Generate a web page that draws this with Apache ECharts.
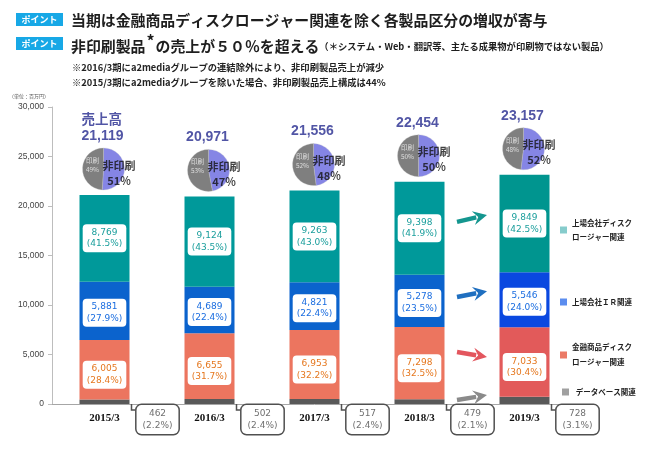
<!DOCTYPE html>
<html><head><meta charset="utf-8">
<script src="https://cdn.jsdelivr.net/npm/echarts@6/dist/echarts.min.js"></script>
<style>html,body{margin:0;padding:0;background:#fff}#c{width:649px;height:450px}</style>
</head><body><div id="c"></div>
<script>
// ---- data ----
const categories = ['2015/3', '2016/3', '2017/3', '2018/3', '2019/3'];
const database = [462, 502, 517, 479, 728];
const databasePct = ['2.2%', '2.4%', '2.4%', '2.1%', '3.1%'];
const financial = [6005, 6655, 6953, 7298, 7033];
const financialPct = ['28.4%', '31.7%', '32.2%', '32.5%', '30.4%'];
const irValues = [5881, 4689, 4821, 5278, 5546];
const irPct = ['27.9%', '22.4%', '22.4%', '23.5%', '24.0%'];
const disclosure = [8769, 9124, 9263, 9398, 9849];
const disclosurePct = ['41.5%', '43.5%', '43.0%', '41.9%', '42.5%'];
const totals = [21119, 20971, 21556, 22454, 23157];
const nonPrintPct = [51, 47, 48, 50, 52];
const printPct = [49, 53, 52, 50, 48];
const seriesNames = ['データベース関連', '金融商品ディスクロージャー関連', '上場会社ＩＲ関連', '上場会社ディスクロージャー関連'];

// ---- styling ----
const CJK = "'Noto Sans CJK JP', 'Noto Sans', sans-serif";
const NUM = "'DejaVu Sans', sans-serif";
const fmt = v => Number(v).toLocaleString('en-US');
const chart = echarts.init(document.getElementById('c'));

function seg(values, color19) {
  return values.map((v, i) => i === values.length - 1 ? { value: v, itemStyle: { color: color19 } } : v);
}
function segLabel(pcts, color, dy) {
  return {
    show: true, position: 'inside', offset: [0, dy],
    formatter: p => fmt(p.value) + '\n(' + pcts[p.dataIndex] + ')',
    color: color, fontFamily: NUM, fontSize: 9, lineHeight: 11.5,
    backgroundColor: '#fff', borderRadius: 4, padding: [3, 4, 2, 4]
  };
}
const legendCommon = {
  orient: 'vertical', icon: 'rect', itemWidth: 7, itemHeight: 7, itemGap: 0, padding: 0,
  selectedMode: false,
  textStyle: { fontFamily: CJK, fontSize: 7.5, fontWeight: 'bold', color: '#222', lineHeight: 14 }
};
const badge = (top) => ({
  text: 'ポイント', left: 16, top: top, padding: [1, 5.5, 1, 5.5], backgroundColor: '#17a8e6',
  textStyle: { color: '#fff', fontSize: 9, fontWeight: 'bold', lineHeight: 11, fontFamily: CJK }
});
const totalPoints = totals.map((v, i) => [i, v]);

const option = {
  animation: false,
  backgroundColor: '#fff',
  title: [
    badge(13), badge(37),
    { text: '当期は金融商品ディスクロージャー関連を除く各製品区分の増収が寄与', left: 71, top: 11, padding: 0,
      textStyle: { fontFamily: CJK, fontSize: 14.9, fontWeight: 'bold', color: '#1e1e1e', lineHeight: 18 } },
    { text: '{a|非印刷製品}{s|*}{a|の売上が５０％を超える}{b|（＊システム・Web・翻訳等、主たる成果物が印刷物ではない製品）}',
      left: 71, top: 37, padding: 0,
      textStyle: { rich: {
        a: { fontFamily: CJK, fontSize: 14.9, fontWeight: 'bold', color: '#1e1e1e', lineHeight: 18 },
        s: { fontFamily: CJK, fontSize: 16, fontWeight: 'bold', color: '#1e1e1e', lineHeight: 18, padding: [0, 1, 10, 1] },
        b: { fontFamily: CJK, fontSize: 9.3, fontWeight: 'bold', color: '#1e1e1e', lineHeight: 18 }
      } } },
    { text: '※2016/3期にa2mediaグループの連結除外により、非印刷製品売上が減少', left: 72, top: 61, padding: 0,
      textStyle: { fontFamily: CJK, fontSize: 9.3, fontWeight: 'bold', color: '#222', lineHeight: 12 } },
    { text: '※2015/3期にa2mediaグループを除いた場合、非印刷製品売上構成は44%', left: 72, top: 76, padding: 0,
      textStyle: { fontFamily: CJK, fontSize: 9.3, fontWeight: 'bold', color: '#222', lineHeight: 12 } },
    { text: '（単位：百万円）', left: 9, top: 93, padding: 0,
      textStyle: { fontFamily: CJK, fontSize: 5, fontWeight: 'normal', color: '#555', lineHeight: 7 } }
  ],
  legend: [
    Object.assign({}, legendCommon, { left: 560, top: 216,
      data: [{ name: seriesNames[3], itemStyle: { color: '#86cccc' } }], formatter: () => '上場会社ディスク\nロージャー関連' }),
    Object.assign({}, legendCommon, { left: 560, top: 295,
      data: [{ name: seriesNames[2], itemStyle: { color: '#5b8def' } }] }),
    Object.assign({}, legendCommon, { left: 560, top: 340,
      textStyle: Object.assign({}, legendCommon.textStyle, { lineHeight: 15 }),
      data: [{ name: seriesNames[1], itemStyle: { color: '#eb7a66' } }], formatter: () => '金融商品ディスク\nロージャー関連' }),
    Object.assign({}, legendCommon, { left: 562, top: 385,
      data: [{ name: seriesNames[0], itemStyle: { color: '#a0a0a0' } }], formatter: () => ' データベース関連' })
  ],
  grid: { left: 52, right: 72, top: 107, bottom: 46 },
  xAxis: {
    type: 'category', data: categories,
    axisLine: { lineStyle: { color: '#a6a6a6', width: 1 } },
    axisTick: { show: false },
    axisLabel: { fontFamily: "'Liberation Serif', serif", fontWeight: 'bold', fontSize: 11, color: '#111', margin: 9 }
  },
  yAxis: {
    type: 'value', min: 0, max: 30000, interval: 5000,
    axisLine: { show: true, lineStyle: { color: '#bdbdbd' } },
    axisTick: { show: true, length: 4, lineStyle: { color: '#bdbdbd' } },
    splitLine: { show: false },
    axisLabel: { formatter: v => fmt(v), fontFamily: "'Liberation Sans', sans-serif", fontSize: 8.5, color: '#444', margin: 8 }
  },
  series: [
    { name: seriesNames[0], type: 'bar', stack: 't', barWidth: 50, data: seg(database, '#595959'),
      itemStyle: { color: '#595959' },
      label: { show: true, position: 'bottom', distance: 1, offset: [53, 0],
        formatter: p => fmt(p.value) + '\n(' + databasePct[p.dataIndex] + ')',
        color: '#707070', fontFamily: NUM, fontSize: 9, lineHeight: 12, backgroundColor: '#fff',
        borderColor: '#505050', borderWidth: 1.5, borderRadius: 5, padding: [3, 6, 2, 6] } },
    { name: seriesNames[1], type: 'bar', stack: 't', barWidth: 50, data: seg(financial, '#e25a5a'),
      itemStyle: { color: '#ec755f' }, label: segLabel(financialPct, '#e5771e', 5) },
    { name: seriesNames[2], type: 'bar', stack: 't', barWidth: 50, data: seg(irValues, '#0a48e0'),
      itemStyle: { color: '#0b63cd' }, label: segLabel(irPct, '#1a6de0', 2) },
    { name: seriesNames[3], type: 'bar', stack: 't', barWidth: 50, data: seg(disclosure, '#00958f'),
      itemStyle: { color: '#00999a' }, label: segLabel(disclosurePct, '#1a9e9c', 0) },
    { name: '売上高', type: 'scatter', symbolSize: 1, itemStyle: { color: 'rgba(0,0,0,0)' }, z: 6, silent: true,
      data: totalPoints.map((pt, i) => i === 0 ? {
          value: pt,
          label: { formatter: p => '{a|売上高}\n{b|' + fmt(p.value[1]) + '}', offset: [-2, -67.5] }
        } : pt),
      label: { show: true, position: 'inside', offset: [-2, -59], formatter: p => fmt(p.value[1]),
        fontFamily: "'Liberation Sans', sans-serif", fontSize: 14, fontWeight: 'bold', color: '#262b8e',
        rich: {
          a: { fontFamily: CJK, fontSize: 13.5, color: '#262b8e', lineHeight: 18, align: 'left' },
          b: { fontFamily: "'Liberation Sans', sans-serif", fontSize: 14, fontWeight: 'bold', color: '#262b8e', lineHeight: 18 }
        } } },
    { name: '非印刷', type: 'scatter', symbolSize: 1, itemStyle: { color: 'rgba(0,0,0,0)' }, z: 7, silent: true,
      data: totalPoints,
      label: { show: true, position: 'inside', offset: [14.5, -22],
        formatter: p => '非印刷\n' + nonPrintPct[p.dataIndex] + '%',
        fontFamily: CJK, fontSize: 11, fontWeight: 'bold', color: '#111', lineHeight: 15 } },
    { name: '印刷', type: 'scatter', symbolSize: 1, itemStyle: { color: 'rgba(0,0,0,0)' }, z: 7, silent: true,
      data: totalPoints,
      label: { show: true, position: 'inside', offset: [-12, -30],
        formatter: p => '印刷\n' + printPct[p.dataIndex] + '%',
        fontFamily: CJK, fontSize: 6.5, color: '#f2f2f2', lineHeight: 9 } }
  ]
};
chart.setOption(option);

// pies placed above each bar, using the chart's own coordinate conversion
const pies = categories.map((c, i) => {
  const p = chart.convertToPixel({ gridIndex: 0 }, [i, totals[i]]);
  return {
    type: 'pie', id: 'pie' + i, radius: 21, center: [p[0] - 1, p[1] - 26], startAngle: 90, clockwise: true,
    silent: true, z: 5, label: { show: false }, labelLine: { show: false },
    itemStyle: { borderColor: 'rgba(200,200,200,0.6)', borderWidth: 0.5 },
    data: [
      { value: nonPrintPct[i], name: '非印刷', itemStyle: { color: '#8585e5' } },
      { value: printPct[i], name: '印刷', itemStyle: { color: '#7f7f7f' } }
    ]
  };
});

const graphics = [];
categories.forEach((c, i) => {
  const p = chart.convertToPixel({ gridIndex: 0 }, [i, 0]);
  graphics.push({ type: 'polyline', z: 10, silent: true,
    shape: { points: [[p[0] + 27, p[1]], [p[0] + 27, p[1] + 6], [p[0] + 31, p[1] + 6]] },
    style: { stroke: '#505050', lineWidth: 1.5, fill: null } });
});
// growth arrows between the last two years
const arrowLevels = [[18400, 19100, '#14968f'], [10800, 11400, '#1f6fc0'], [5250, 4750, '#e3565e'], [400, 900, '#8a8a8a']];
arrowLevels.forEach(a => {
  const p3 = chart.convertToPixel({ gridIndex: 0 }, [3, a[0]]);
  const p4 = chart.convertToPixel({ gridIndex: 0 }, [4, a[1]]);
  const mid = (p3[0] + p4[0]) / 2;
  const tail = [mid - 15, p3[1]], tip = [mid + 15, p4[1]];
  const dx = tip[0] - tail[0], dy = tip[1] - tail[1], L = Math.hypot(dx, dy);
  const ux = dx / L, uy = dy / L, nx = -uy, ny = ux;
  const hl = 12, hw = 7;
  const base = [tip[0] - ux * hl, tip[1] - uy * hl];
  graphics.push({ type: 'line', silent: true, z: 10,
    shape: { x1: tail[0], y1: tail[1], x2: base[0] + ux, y2: base[1] + uy },
    style: { stroke: a[2], lineWidth: 4.5 } });
  graphics.push({ type: 'polygon', silent: true, z: 10,
    shape: { points: [tip, [base[0] + nx * hw - ux * 2, base[1] + ny * hw - uy * 2], [base[0] + ux * 3, base[1] + uy * 3], [base[0] - nx * hw - ux * 2, base[1] - ny * hw - uy * 2]] },
    style: { fill: a[2] } });
});
chart.setOption({ series: pies, graphic: graphics });
</script>
</body></html>
